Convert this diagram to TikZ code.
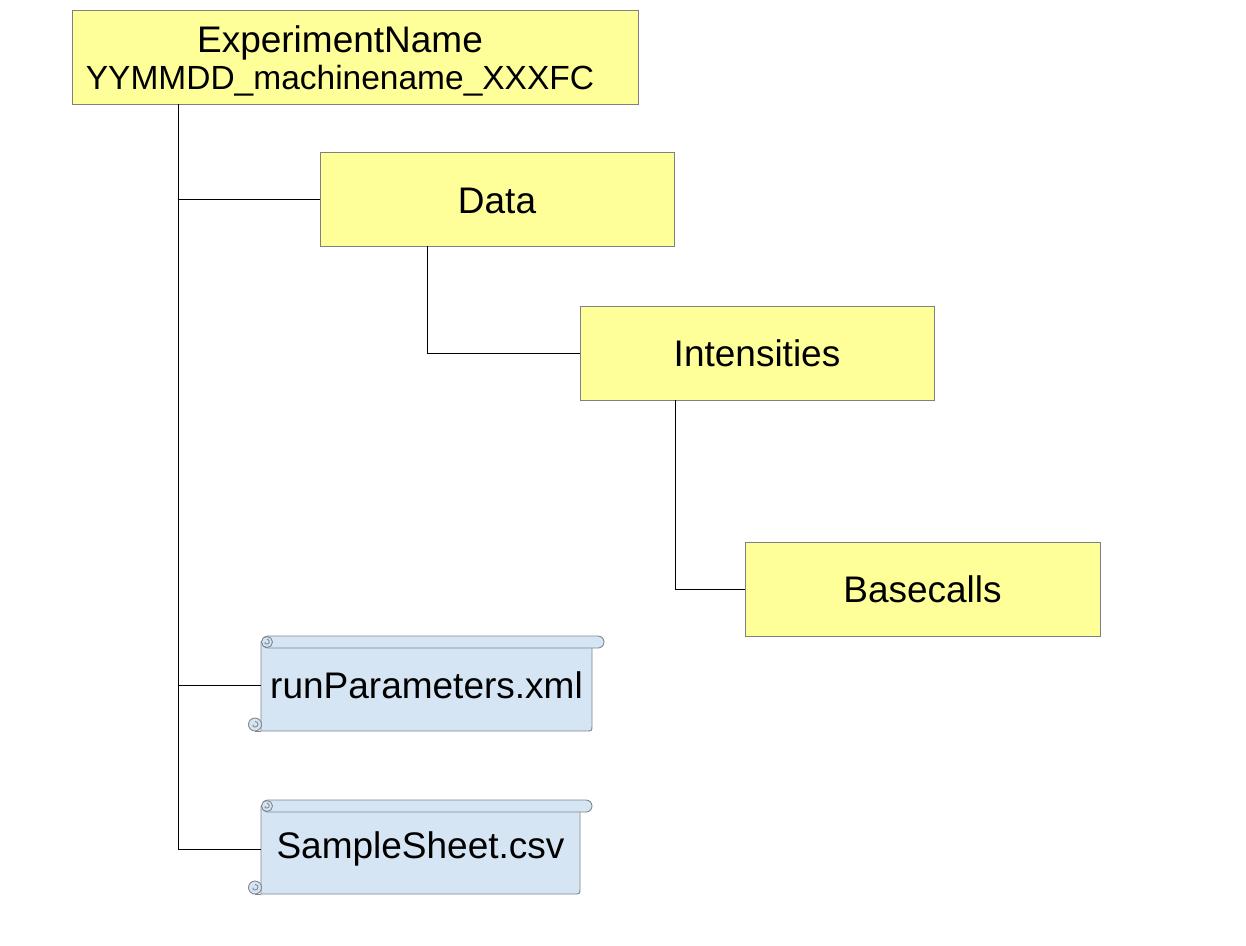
\documentclass[tikz,border=0pt]{standalone}
\usepackage{fontspec}
\setmainfont{Liberation Sans}
\definecolor{boxyellow}{HTML}{FFFF99}
\definecolor{boxgray}{HTML}{808080}
\definecolor{scrollblue}{HTML}{D5E5F3}
\definecolor{scrollgray}{HTML}{80868E}
\newcommand\myscroll[4]{% L R T B
  \filldraw[scrollst] (#1,#3+6) -- (#1,#4) -- (#2-6,#4) .. controls (#2,#4) .. (#2,#4-6) -- (#2,#3+6) -- cycle;
  \filldraw[scrollst, rounded corners=6pt] (#1+1,#3) rectangle (#2+12,#3+12);
  \filldraw[scrollst] (#1+6,#3+6) circle[radius=5.5pt];
  \draw[scrollgray, line width=0.9pt] (#1+6,#3+3) .. controls (#1+9,#3+4) and (#1+9,#3+8) .. (#1+6,#3+8) .. controls (#1+4,#3+8) .. (#1+4,#3+6);
  \filldraw[scrollst] (#1-6,#4-6.5) circle[radius=6.5pt];
  \draw[scrollgray, line width=0.9pt] (#1-6,#4) -- (#1,#4);
  \draw[scrollgray, line width=0.9pt] (#1-6,#4-9.5) .. controls (#1-2,#4-9.5) and (#1-2,#4-4) .. (#1-6,#4-4) .. controls (#1-8,#4-4) .. (#1-8,#4-6.5);
}
\begin{document}
\begin{tikzpicture}[x=1pt,y=-1pt,
  box/.style={draw=boxgray, fill=boxyellow, line width=0.9pt, rectangle, inner sep=0pt, minimum height=94pt},
  big/.style={font=\fontsize{37}{44}\selectfont},
  small/.style={font=\fontsize{33.5}{38}\selectfont},
  scrollst/.style={draw=scrollgray, fill=scrollblue, line width=0.9pt},
  conn/.style={draw=black, line width=0.9pt},
  txt/.style={inner sep=0pt, align=center}]
\useasboundingbox[fill=white] (0,0) rectangle (1246,945);

% boxes
\node[box, minimum width=566pt] (exp) at (355,57) {};
\node[txt, big] (expname) at (340,42.5) {ExperimentName};
\node[txt, small] (expid) at (340,80.5) {YYMMDD\_machinename\_XXXFC};
\node[box, minimum width=354pt] (data) at (497,199) {};
\node[txt, big] (datatext) at (497,200.5) {Data};
\node[box, big, minimum width=354pt] (int) at (757,353) {Intensities};
\node[box, big, minimum width=355pt] (base) at (922.5,589) {Basecalls};

% scrolls
\myscroll{261}{592}{636}{731}
\node[txt, big, minimum width=331pt] (rp) at (426.5,685) {runParameters.xml};
\myscroll{261}{580}{800}{894}
\node[txt, big, minimum width=319pt] (ss) at (420.5,849) {SampleSheet.csv};

% connectors
\coordinate (trunk) at (178,0);
\draw[conn] (exp.south -| trunk) |- (ss.west);
\draw[conn] (data.west) -- (data.west -| trunk);
\draw[conn] (rp.west) -- (rp.west -| trunk);
\draw[conn] (data.south -| 427,0) |- (int.west);
\draw[conn] (int.south -| 675,0) |- (base.west);
\end{tikzpicture}
\end{document}
